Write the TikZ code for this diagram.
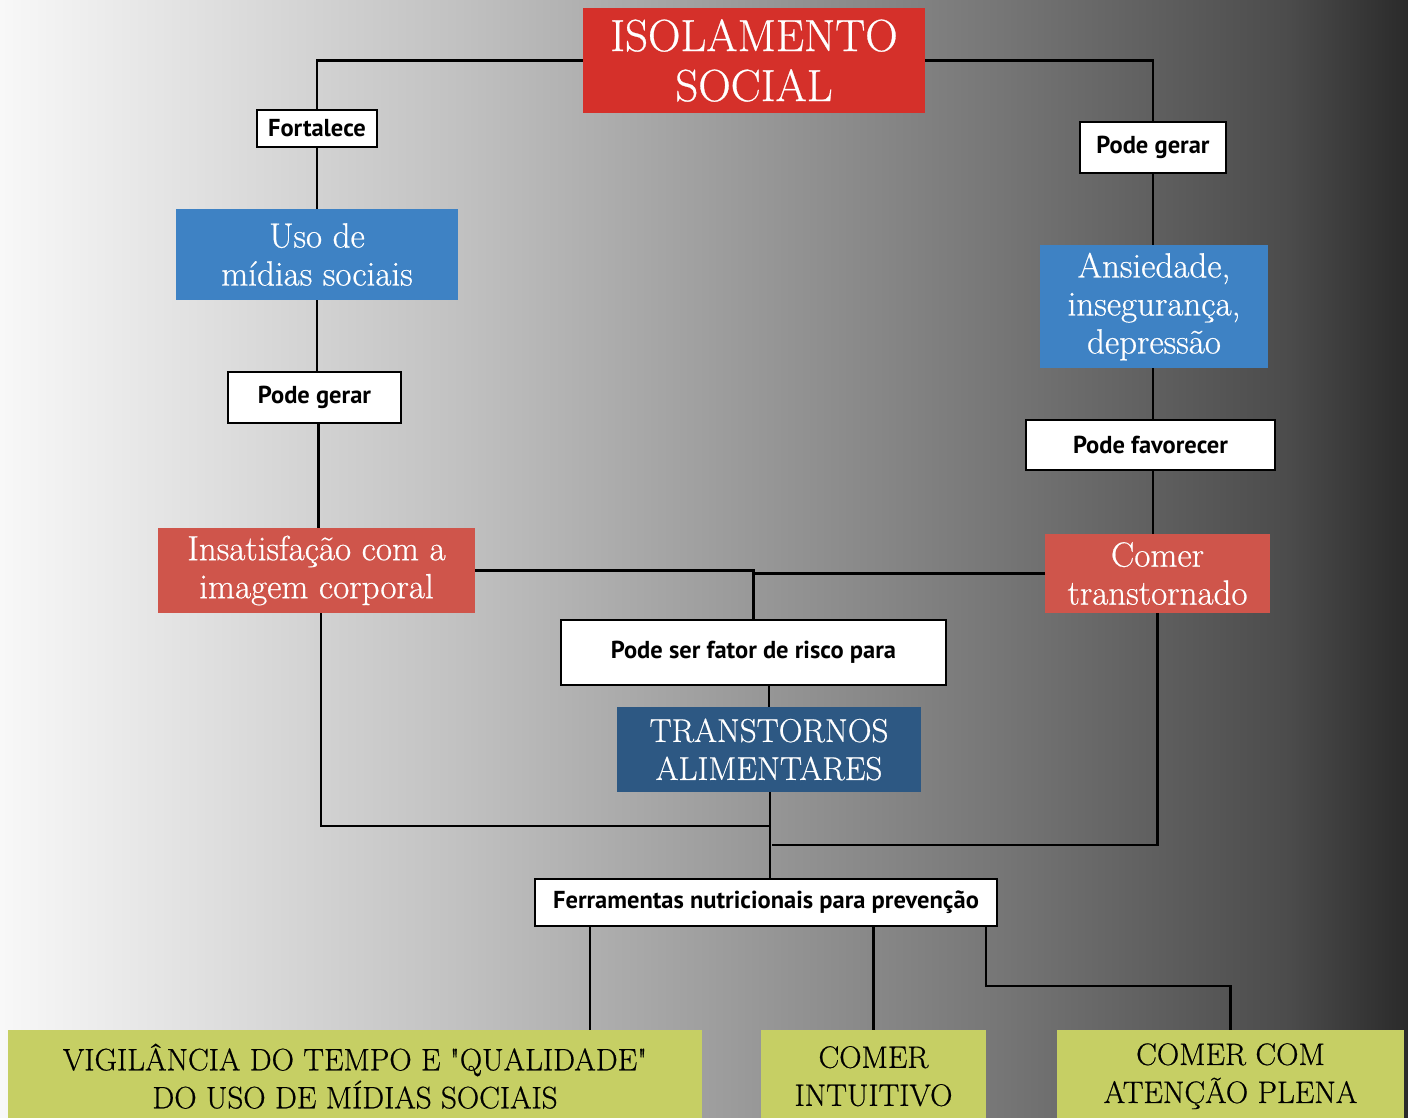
\documentclass[tikz,border=0pt]{standalone}
\usepackage{fontspec}
\newfontfamily\tagfont{PT Sans}
\newfontfamily\boxfont{Latin Modern Roman}[FakeBold=0.6]
\usetikzlibrary{positioning,calc}

\definecolor{isored}{RGB}{213,48,42}
\definecolor{softred}{RGB}{207,85,75}
\definecolor{midblue}{RGB}{62,130,196}
\definecolor{deepblue}{RGB}{45,88,131}
\definecolor{toolgreen}{RGB}{198,207,100}
\definecolor{bgA}{RGB}{248,248,248}
\definecolor{bgB}{RGB}{193,193,193}
\definecolor{bgC}{RGB}{118,118,118}
\definecolor{bgD}{RGB}{75,75,75}
\definecolor{bgE}{RGB}{42,42,42}

\begin{document}
\begin{tikzpicture}[
		x=1pt, y=-1pt,
		box/.style={inner sep=0pt, align=center, text=white},
		tagbox/.style={draw=black, line width=2.6pt, fill=white, inner sep=0pt,
			font=\tagfont\bfseries\fontsize{24.5}{28}\selectfont},
		toolbox/.style={fill=toolgreen, inner sep=0pt, align=center, anchor=north,
			minimum height=92pt, font=\boxfont\fontsize{31}{38}\selectfont},
		link/.style={line width=2.6pt, black},
	]
	\clip (0,0) rectangle (1408,1117);
	% background
	\shade[left color=bgA, right color=bgB] (0,0) rectangle (460,1117);
	\shade[left color=bgB, right color=bgC] (460,0) rectangle (1000,1117);
	\shade[left color=bgC, right color=bgD] (1000,0) rectangle (1290,1117);
	\shade[left color=bgD, right color=bgE] (1290,0) rectangle (1408,1117);

	% main boxes
	\node[box, fill=isored, minimum width=342pt, minimum height=105pt,
		font=\boxfont\fontsize{45}{50}\selectfont] (isol) at (754,60.5) {ISOLAMENTO\\SOCIAL};
	\node[box, fill=midblue, minimum width=282pt, minimum height=91pt,
		font=\boxfont\fontsize{35}{38}\selectfont] (uso) at (317,254.5) {Uso de\\m\'idias sociais};
	\node[box, fill=softred, minimum width=317pt, minimum height=85pt,
		font=\boxfont\fontsize{35}{38}\selectfont] (insat) at (316.5,570.5) {Insatisfa\c{c}\~ao com a\\imagem corporal};
	\node[box, fill=midblue, minimum width=228pt, minimum height=123pt,
		font=\boxfont\fontsize{35}{38}\selectfont] (anx) at (1154,306.5) {Ansiedade,\\inseguran\c{c}a,\\depress\~ao};
	\node[box, fill=softred, minimum width=225pt, minimum height=79pt,
		font=\boxfont\fontsize{35}{38}\selectfont] (comer) at (1157.5,573.5) {Comer\\transtornado};
	\node[box, fill=deepblue, minimum width=304pt, minimum height=85pt,
		font=\boxfont\fontsize{33}{38}\selectfont] (trans) at (769,749.5) {TRANSTORNOS\\ALIMENTARES};

	% link labels
	\node[tagbox, minimum width=120pt, minimum height=37pt] (fort) at (317,128.5) {Fortalece};
	\node[tagbox, minimum width=173pt, minimum height=51pt] (pgl) at (314.5,397.5) {Pode gerar};
	\node[tagbox, minimum width=146pt, minimum height=51pt] (pgr) at (1153,147.5) {Pode gerar};
	\node[tagbox, minimum width=249pt, minimum height=50pt] (fav) at (1150.5,445) {Pode favorecer};
	\node[tagbox, minimum width=385pt, minimum height=65pt] (risk) at (753.5,652.5) {Pode ser fator de risco para};
	\node[tagbox, minimum width=462pt, minimum height=47pt,
		font=\tagfont\bfseries\fontsize{24.5}{28}\selectfont] (ferr) at (766,902.5) {Ferramentas nutricionais para preven\c{c}\~ao};

	% tools
	\node[toolbox, minimum width=694pt] (vig) at (355,1030) {VIGIL\^ANCIA DO TEMPO E \textquotedbl QUALIDADE\textquotedbl\\DO USO DE M\'IDIAS SOCIAIS};
	\node[toolbox, minimum width=225pt] (intu) at (873.5,1030) {COMER\\INTUITIVO};
	\node[toolbox, minimum width=347pt] (plena) at (1230.5,1030) {COMER COM\\ATEN\c{C}\~AO PLENA};

	% connectors, left branch
	\draw[link] (isol.west) -| (fort.north);
	\draw[link] (fort.south) -- (uso.north);
	\draw[link] (uso.south) -- (uso.south |- pgl.north);
	\draw[link] ([xshift=4pt]pgl.south) -- ([xshift=4pt]pgl.south |- insat.north);
	% right branch
	\draw[link] (isol.east) -| (pgr.north);
	\draw[link] (pgr.south) -- (pgr.south |- anx.north);
	\draw[link] (pgr.south |- anx.south) -- (pgr.south |- fav.north);
	\draw[link] (pgr.south |- fav.south) -- (pgr.south |- comer.north);
	% risk
	\draw[link] (insat.east) -| (risk.north);
	\draw[link] (comer.west) -| (risk.north);
	\draw[link] (trans.north |- risk.south) -- (trans.north);
	% joins to tools
	\coordinate (jl) at (770,826);
	\coordinate (jr) at (772,845);
	\draw[link] ([xshift=4.5pt]insat.south) |- (jl);
	\draw[link] (comer.south) |- (jr);
	\draw[link] ([xshift=1pt]trans.south) -- ([xshift=1pt]trans.south |- ferr.north);
	\draw[link] (ferr.south -| 590,0) -- (vig.north -| 590,0);
	\draw[link] (ferr.south -| intu.north) -- (intu.north);
	\draw[link] (ferr.south -| 986,0) -- (986,986) -| (plena.north);
\end{tikzpicture}
\end{document}
